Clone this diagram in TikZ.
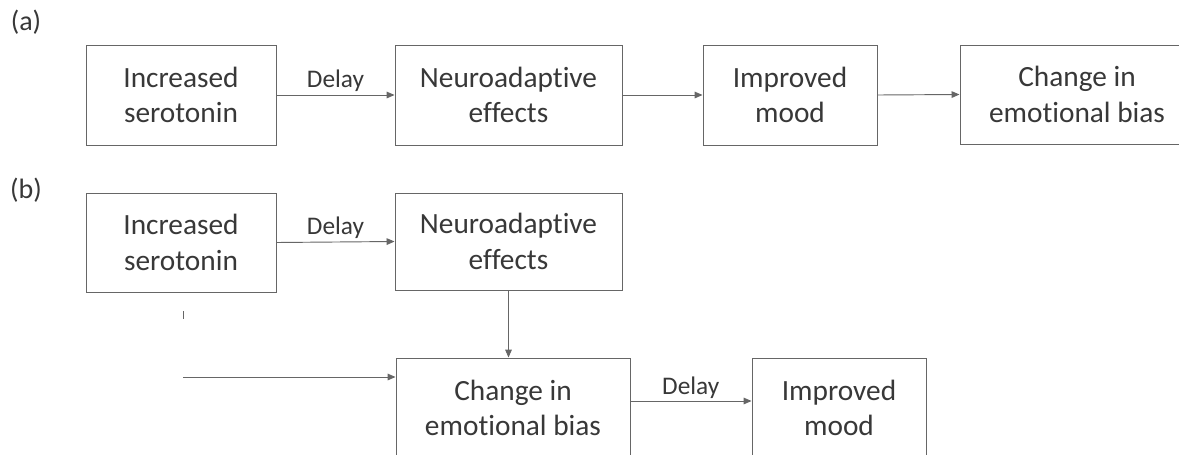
\documentclass[tikz,border=0pt]{standalone}
\usepackage{fontspec}
\setmainfont[Ligatures={NoCommon}]{Carlito}
\usetikzlibrary{arrows.meta}
\definecolor{ink}{gray}{0.22}
\definecolor{edge}{gray}{0.40}
\tikzset{
  box/.style={draw=edge, line width=0.7pt, rectangle, align=center, text=ink,
    font=\fontsize{22}{26.5}\selectfont, inner sep=0pt},
  conn/.style={draw=edge, line width=0.7pt, -{Triangle[length=6pt,width=5pt]}},
  delaylab/.style={text=ink, font=\fontsize{19}{22}\selectfont, inner sep=0pt},
  panel/.style={text=ink, font=\fontsize{21}{25}\selectfont, inner sep=0pt}
}
\begin{document}
\begin{tikzpicture}[x=0.75pt,y=-0.75pt]
\useasboundingbox[fill=white] (0,0) rectangle (1179,454);
\begin{scope}
\clip (0,0) rectangle (1179,454);
% panel labels
\node[panel] (la) at (26,22) {(a)};
\node[panel] (lb) at (26,190) {(b)};
% row (a)
\node[box, minimum width={190*0.75pt}, minimum height={100*0.75pt}] (a1) at (181,95) {Increased\\serotonin};
\node[box, minimum width={227*0.75pt}, minimum height={100*0.75pt}] (a2) at (508.5,95) {Neuroadaptive\\effects};
\node[box, minimum width={174*0.75pt}, minimum height={100*0.75pt}] (a3) at (790,95) {Improved\\mood};
\node[box, minimum width={234*0.75pt}, minimum height={99*0.75pt}] (a4) at (1077,94.5) {Change in\\emotional bias};
\draw[conn] (a1.east) -- node[delaylab, above={3*0.75pt}] (da) {Delay} (a2.west);
\draw[conn] (a2.east) -- (a3.west);
\draw[conn] (a3.east) -- (a4.west);
% row (b)
\node[box, minimum width={190*0.75pt}, minimum height={99*0.75pt}] (b1) at (181,242.5) {Increased\\serotonin};
\node[box, minimum width={227*0.75pt}, minimum height={97*0.75pt}] (b2) at (508.5,241.5) {Neuroadaptive\\effects};
\node[box, minimum width={234*0.75pt}, minimum height={100*0.75pt}] (b3) at (513,408) {Change in\\emotional bias};
\node[box, minimum width={174*0.75pt}, minimum height={100*0.75pt}] (b4) at (839,408) {Improved\\mood};
\draw[conn] (b1.east) -- node[delaylab, above={3*0.75pt}] (db) {Delay} (b2.west);
\draw[conn] (b2.south) -- (b2.south |- b3.north);
\coordinate (s) at (183,377);
\coordinate (t1) at (183,311);
\coordinate (t2) at (183,319);
\draw[draw=edge, line width=0.6pt] (t1) -- (t2);
\draw[conn] (s) -- (s -| b3.west);
\coordinate (d1) at (630,401);
\draw[conn] (d1) -- node[delaylab, above={2*0.75pt}] (dc) {Delay} (d1 -| b4.west);
\end{scope}
\end{tikzpicture}
\end{document}
